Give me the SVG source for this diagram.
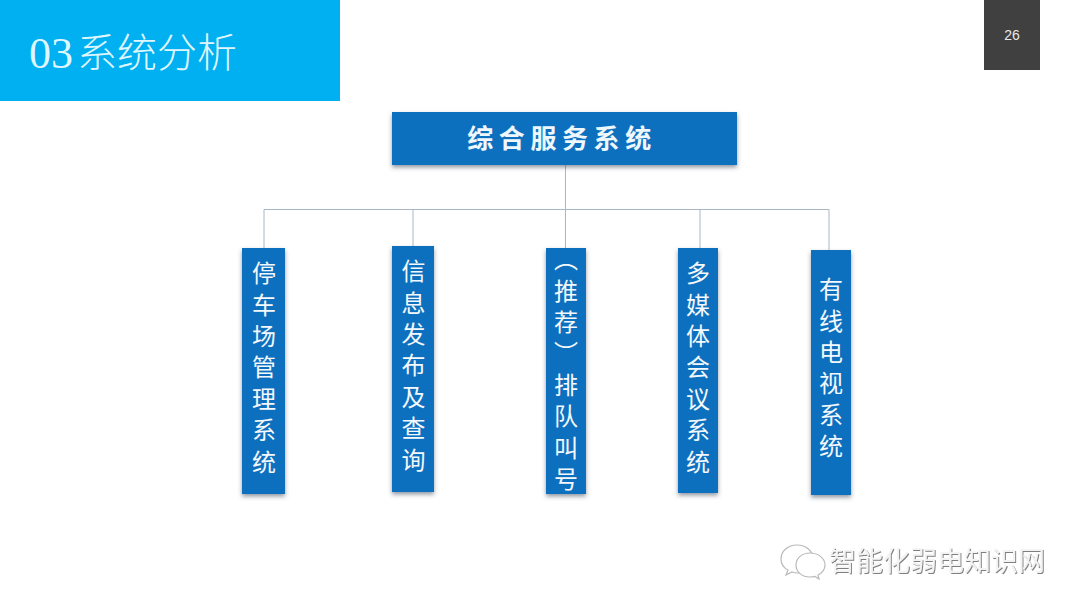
<svg xmlns="http://www.w3.org/2000/svg" width="1080" height="608" viewBox="0 0 1080 608" lang="zh-Hans">
<style>
.box{fill:#0b70bf;filter:url(#sh)}
.link{stroke:#a9b6c4;stroke-width:1;fill:none}
.v{font-family:"Noto Sans CJK SC","Liberation Sans",sans-serif;font-size:24px;fill:#f2f8fc;writing-mode:vertical-rl;letter-spacing:7.4px}
.wm{font-family:"Noto Sans CJK SC","Liberation Sans",sans-serif;font-size:27px;fill:#f3f3f3;filter:url(#emb)}
.bub{fill:#fff;stroke:#b9b9b9;stroke-width:1.2}
.t{fill:#dff6fe;font-weight:300}
</style>
<defs>
<filter id="sh" x="-30%" y="-10%" width="160%" height="125%"><feDropShadow dx="0" dy="2.5" stdDeviation="2" flood-color="#3a4a5a" flood-opacity=".55"/></filter>
<filter id="emb" x="-5%" y="-10%" width="110%" height="125%"><feDropShadow dx="1" dy="1" stdDeviation=".5" flood-color="#777" flood-opacity=".95"/></filter>
</defs>
<rect width="1080" height="608" fill="#fff"/>
<g id="header"><rect width="340" height="101" fill="#00b0f0"/>
<text class="t" x="29" y="68" font-family="'Liberation Serif',serif" font-size="44">03</text>
<text class="t" x="77" y="67" font-family="'Noto Sans CJK SC',sans-serif" font-size="40">系统分析</text></g>
<g id="page"><rect x="984" y="0" width="56" height="70" fill="#404040"/>
<text x="1012" y="40" text-anchor="middle" font-family="'Liberation Sans',sans-serif" font-size="14" fill="#e8e8e8">26</text></g>
<g id="connectors" class="link">
<path d="M565.500 165V248M264 248V209.500H829V250M413 209.500V247M700 209.500V248"/>
</g>
<g id="root"><rect class="box" x="392" y="112" width="345" height="53"/>
<text x="562" y="148" text-anchor="middle" font-family="'Noto Sans CJK SC',sans-serif" font-size="26" font-weight="700" fill="#eef7fb" letter-spacing="5.600">综合服务系统</text></g>
<g id="n1"><rect class="box" x="242" y="248" width="43" height="246"/><text class="v" x="264" y="261">停车场管理系统</text></g>
<g id="n2"><rect class="box" x="392" y="246" width="42" height="246"/><text class="v" x="413.500" y="259">信息发布及查询</text></g>
<g id="n3"><rect class="box" x="546" y="248" width="40" height="246"/><text class="v" x="566" y="247">（推荐）排队叫号</text></g>
<g id="n4"><rect class="box" x="678" y="248" width="40" height="245"/><text class="v" x="698" y="261">多媒体会议系统</text></g>
<g id="n5"><rect class="box" x="811" y="250" width="40" height="245"/><text class="v" x="831" y="277">有线电视系统</text></g>
<g id="watermark">
<path class="bub" d="M797 545c-9 0-16 6-16 14 0 5 3 9 7 11l-2 5 6-3c2 .6 4 1 6 1 8 0 15-6 15-14s-7-14-16-14z"/>
<path class="bub" d="M810 553c-8 0-14 5-14 12s6 12 14 12c2 0 3 0 5-.6l4 2.600-1-4c4-2 7-6 7-10 0-7-7-12-15-12z"/>
<text class="wm" x="829" y="571">智能化弱电知识网</text>
</g>
</svg>
